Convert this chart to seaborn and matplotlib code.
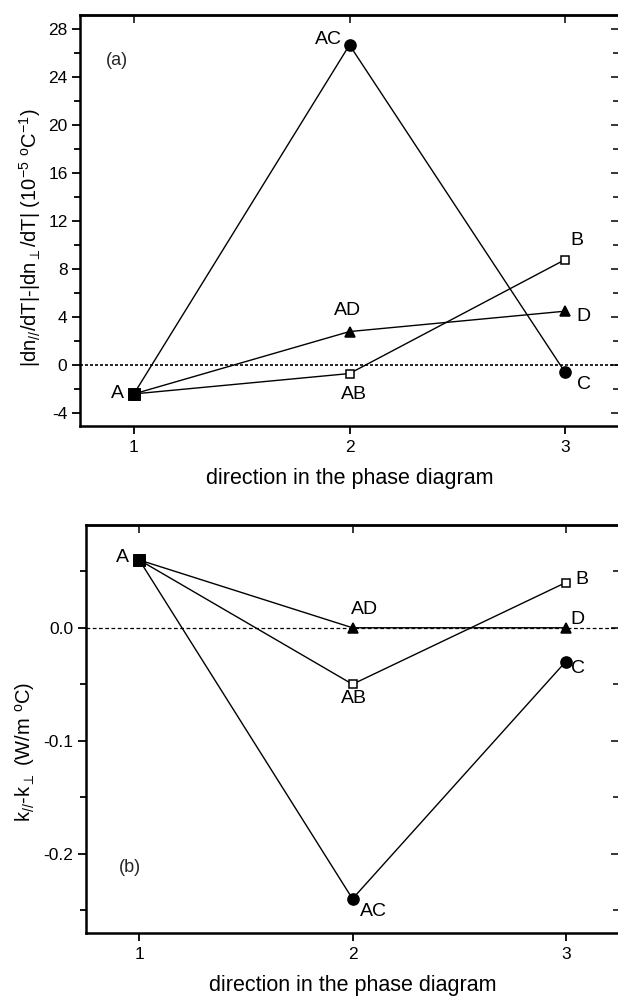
import matplotlib
matplotlib.use("Agg")
import matplotlib.pyplot as plt
from matplotlib.ticker import MultipleLocator, NullFormatter, FormatStrFormatter
import pandas as pd
import seaborn as sns

# Directions in the phase diagram
directions = [1, 2, 3]

# Panel (a): |dn_par/dT| - |dn_perp/dT|  (1e-5 / degC)
dn_AC = [-2.4, 26.7, -0.6]
dn_AD = [-2.4, 2.8, 4.5]
dn_AB = [-2.4, -0.7, 8.8]

# Panel (b): k_par - k_perp  (W/m degC)
k_AC = [0.06, -0.24, -0.03]
k_AD = [0.06, 0.0, 0.0]
k_AB = [0.06, -0.05, 0.04]

# Point names along each path
names_AC = ["A", "AC", "C"]
names_AD = ["A", "AD", "D"]
names_AB = ["A", "AB", "B"]

sns.set_theme(style="ticks")
plt.rcParams["font.family"] = ["Liberation Sans", "DejaVu Sans"]
plt.rcParams["mathtext.fontset"] = "custom"
plt.rcParams["mathtext.rm"] = "Liberation Sans"
plt.rcParams["mathtext.it"] = "Liberation Sans:italic"
plt.rcParams["mathtext.default"] = "regular"

W, H = 618, 996
fig = plt.figure(figsize=(W / 100, H / 100), dpi=100)

def frac(left, top, right, bottom):
    return [left / W, 1 - bottom / H, (right - left) / W, (bottom - top) / H]

ax1 = fig.add_axes(frac(80, 15, 619, 425.7))
ax2 = fig.add_axes(frac(86, 525, 619, 932.7))

series_style = {
    "AC": dict(marker="o", markersize=8, markerfacecolor="black"),
    "AD": dict(marker="^", markersize=7.5, markerfacecolor="black"),
    "AB": dict(marker="s", markersize=6, markerfacecolor="white"),
}

LABEL_SIZE = 14

def draw_panel(ax, data):
    for key in ["AC", "AD", "AB"]:
        df = pd.DataFrame({"direction": directions, "value": data[key]})
        sns.lineplot(data=df, x="direction", y="value", ax=ax, color="black",
                     linewidth=1.0, markeredgecolor="black", markeredgewidth=1.1,
                     zorder=3, **series_style[key])
    # common starting point A
    sns.scatterplot(x=[directions[0]], y=[data["AC"][0]], ax=ax, marker="s",
                    s=72, color="black", edgecolor="black", zorder=5)
    ax.set_xlim(0.75, 3.25)

def label(ax, x, y, text, dx, dy, ha="center", va="center"):
    ax.annotate(text, (x, y), xytext=(dx, dy), textcoords="offset pixels",
                ha=ha, va=va, fontsize=LABEL_SIZE, color="black", zorder=6)

def style_axes(ax, major, minor, fmt):
    for sp in ax.spines.values():
        sp.set_linewidth(1.8)
        sp.set_color("black")
    ax.set_xticks(directions)
    ax.xaxis.set_tick_params(which="major", direction="out", length=6,
                             width=1.3, labelsize=12.5, pad=4)
    ax.yaxis.set_major_locator(MultipleLocator(major))
    ax.yaxis.set_minor_locator(MultipleLocator(minor))
    ax.yaxis.set_major_formatter(fmt)
    ax.tick_params(axis="y", which="major", direction="out", length=6,
                   width=1.3, labelsize=12.5, pad=3, colors="black")
    ax.tick_params(axis="y", which="minor", direction="out", length=4,
                   width=1.3, colors="black")
    ax.tick_params(axis="x", colors="black")
    top = ax.secondary_xaxis("top")
    top.set_xticks(directions)
    top.tick_params(direction="in", length=6, width=1.3, labeltop=False)
    right = ax.secondary_yaxis("right")
    right.yaxis.set_major_locator(MultipleLocator(major))
    right.yaxis.set_minor_locator(MultipleLocator(minor))
    right.tick_params(which="major", direction="in", length=6, width=1.3,
                      labelright=False)
    right.tick_params(which="minor", direction="in", length=4, width=1.3)
    right.yaxis.set_major_formatter(NullFormatter())
    for sec in (top, right):
        for sp in sec.spines.values():
            sp.set_linewidth(1.8)
    ax.set_xlabel("direction in the phase diagram", fontsize=15.5, labelpad=10,
                  color="black")

# ---- panel (a)
dn = {"AC": dn_AC, "AD": dn_AD, "AB": dn_AB}
draw_panel(ax1, dn)
ax1.axhline(0, color="black", linewidth=1.2, linestyle=(0, (1.8, 1.2)), zorder=2)
ax1.set_ylim(-5.05, 29.2)
style_axes(ax1, 4, 2, FormatStrFormatter("%d"))
ax1.set_ylabel(r"|dn$_{//}$/dT|-|dn$_{\perp}$/dT| (10$^{-5}$ $^{o}$C$^{-1}$)",
               fontsize=14.5, color="black")
ax1.yaxis.set_label_coords(-0.069, 0.457)
ax1.text(0.069, 0.89, "(a)", transform=ax1.transAxes, fontsize=13,
         ha="center", va="center")
label(ax1, 1, dn_AC[0], names_AC[0], -10, 0, ha="right")
label(ax1, 2, dn_AC[1], names_AC[1], -8, 5, ha="right")
label(ax1, 3, dn_AC[2], names_AC[2], 12, -12, ha="left")
label(ax1, 2, dn_AD[1], names_AD[1], -2, 21)
label(ax1, 3, dn_AD[2], names_AD[2], 11, -5, ha="left")
label(ax1, 2, dn_AB[1], names_AB[1], 4, -21)
label(ax1, 3, dn_AB[2], names_AB[2], 5, 19, ha="left")

# ---- panel (b)
kk = {"AC": k_AC, "AD": k_AD, "AB": k_AB}
draw_panel(ax2, kk)
ax2.axhline(0, color="black", linewidth=0.9, linestyle=(0, (3, 2)), zorder=2)
ax2.set_ylim(-0.27, 0.091)
style_axes(ax2, 0.1, 0.05, FormatStrFormatter("%.1f"))
ax2.set_ylabel(r"k$_{//}$-k$_{\perp}$ (W/m $^{o}$C)", fontsize=14.5,
               color="black")
ax2.yaxis.set_label_coords(-0.092, 0.444)
ax2.text(0.083, 0.159, "(b)", transform=ax2.transAxes, fontsize=13,
         ha="center", va="center")
label(ax2, 1, k_AC[0], names_AC[0], -10, 3, ha="right")
label(ax2, 2, k_AC[1], names_AC[1], 7, -13, ha="left")
label(ax2, 3, k_AC[2], names_AC[2], 5, -7, ha="left")
label(ax2, 2, k_AD[1], names_AD[1], -2, 18, ha="left")
label(ax2, 3, k_AD[2], names_AD[2], 5, 8, ha="left")
label(ax2, 2, k_AB[1], names_AB[1], 1, -14)
label(ax2, 3, k_AB[2], names_AB[2], 10, 3, ha="left")

fig.savefig("out.png", dpi=100, facecolor="white")
